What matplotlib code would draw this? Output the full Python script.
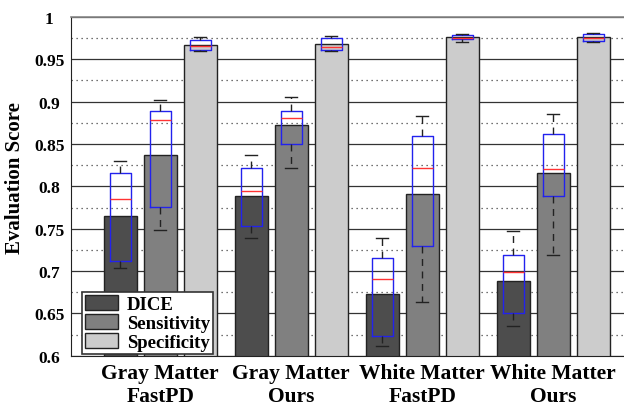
import numpy as np
import matplotlib.pyplot as plt
from matplotlib.ticker import MultipleLocator

# ── Data ──────────────────────────────────────────────────────────────────────
groups = ['Gray Matter\nFastPD', 'Gray Matter\nOurs', 'White Matter\nFastPD', 'White Matter\nOurs']
metrics = ['DICE', 'Sensitivity', 'Specificity']

# mean bar heights per metric (one value per group)
dice_mean = [0.765, 0.789, 0.673, 0.688]
sens_mean = [0.837, 0.872, 0.791, 0.816]
spec_mean = [0.967, 0.968, 0.976, 0.976]

# boxplot stats per metric: (whislo, q1, med, q3, whishi) per group
dice_box = [(0.704, 0.712, 0.785, 0.816, 0.830),
            (0.739, 0.753, 0.794, 0.822, 0.837),
            (0.612, 0.623, 0.691, 0.716, 0.739),
            (0.635, 0.651, 0.699, 0.719, 0.747)]
sens_box = [(0.749, 0.776, 0.878, 0.889, 0.902),
            (0.822, 0.850, 0.881, 0.889, 0.905),
            (0.664, 0.730, 0.822, 0.859, 0.883),
            (0.719, 0.789, 0.820, 0.862, 0.885)]
spec_box = [(0.960, 0.961, 0.966, 0.973, 0.976),
            (0.960, 0.961, 0.965, 0.975, 0.978),
            (0.970, 0.974, 0.975, 0.979, 0.980),
            (0.970, 0.972, 0.975, 0.980, 0.981)]

yticks = [0.6, 0.65, 0.7, 0.75, 0.8, 0.85, 0.9, 0.95, 1.0]
ytick_labels = ['0.6', '0.65', '0.7', '0.75', '0.8', '0.85', '0.9', '0.95', '1']

colors = ['#4d4d4d', '#808080', '#cccccc']

# ── Plot ──────────────────────────────────────────────────────────────────────
plt.rcParams['font.family'] = ['Liberation Serif', 'DejaVu Serif']
plt.rcParams['font.weight'] = 'bold'

fig = plt.figure(figsize=(6.24, 4.06), dpi=100)
ax = fig.add_axes([0.114, 0.121, 0.886, 0.835])

x = np.arange(1, len(groups) + 1)
offset, width = 0.305, 0.25

means = [dice_mean, sens_mean, spec_mean]
boxes = [dice_box, sens_box, spec_box]

for k, (m, lab, c) in enumerate(zip(means, metrics, colors)):
    pos = x + (k - 1) * offset
    ax.bar(pos, m, width, color=c, edgecolor='#222222', linewidth=1.0,
           label=lab, zorder=2)
    stats = [dict(whislo=b[0], q1=b[1], med=b[2], q3=b[3], whishi=b[4], fliers=[])
             for b in boxes[k]]
    ax.bxp(stats, positions=pos, widths=0.16, showfliers=False, patch_artist=False,
           manage_ticks=False, zorder=3,
           boxprops=dict(color='#2222ee', linewidth=1.0),
           medianprops=dict(color='#ff3333', linewidth=1.0),
           whiskerprops=dict(color='#222222', linewidth=1.0, linestyle=(0, (5, 4))),
           capprops=dict(color='#222222', linewidth=1.0),
           capwidths=0.09)

ax.set_xlim(0.32, 4.54)
ax.set_ylim(0.6, 1.0)
ax.yaxis.set_minor_locator(MultipleLocator(0.025))
ax.set_yticks(yticks)
ax.set_yticklabels(ytick_labels)
ax.grid(axis='y', which='major', color='#333333', linewidth=0.9, zorder=0)
ax.grid(axis='y', which='minor', color='#444444', linewidth=0.9,
        linestyle=(0, (1, 3)), zorder=0)
ax.set_axisbelow(True)
ax.tick_params(axis='both', which='both', length=0)
ax.tick_params(axis='y', labelsize=12.5, pad=15.8)
for t in ax.get_yticklabels():
    t.set_horizontalalignment('center')
ax.set_xticks(x)
ax.set_xticklabels(groups, fontsize=15.5, fontweight='bold', linespacing=1.2)
ax.tick_params(axis='x', pad=5)

ax.spines['right'].set_visible(False)
ax.spines['top'].set_color('#888888')
ax.spines['top'].set_linewidth(1.2)
ax.spines['left'].set_color('#222222')
ax.spines['bottom'].set_color('#222222')

ax.set_ylabel('Evaluation Score', fontsize=15, fontweight='bold')
ax.yaxis.set_label_coords(-0.083, 0.527)

leg = ax.legend(loc='lower left', bbox_to_anchor=(0.02, 0.006), borderaxespad=0,
                fancybox=False, edgecolor='#333333', framealpha=1,
                prop=dict(size=13.5, weight='bold'), handlelength=1.75,
                handleheight=0.85, labelspacing=0.05, borderpad=0.15,
                handletextpad=0.5)
leg.get_frame().set_linewidth(1.2)

fig.savefig('out.png', dpi=100)
